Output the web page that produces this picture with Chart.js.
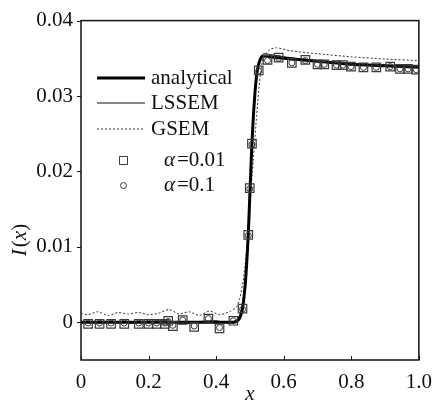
<!DOCTYPE html>
<html>
<head>
<meta charset="utf-8">
<script src="https://cdn.jsdelivr.net/npm/chart.js@4.4.0/dist/chart.umd.min.js"></script>
<style>
    html, body { margin: 0; padding: 0; background: #fff; }
</style>
</head>
<body>
<canvas id="chart" width="442" height="400"></canvas>
<script>
// analytical solution
const analyticX = [0, 0.1, 0.2, 0.3, 0.4, 0.45, 0.46, 0.47, 0.478, 0.485, 0.49, 0.495, 0.5, 0.505, 0.51, 0.515, 0.52, 0.525, 0.53, 0.535, 0.545, 0.56, 0.6, 0.7, 0.8, 0.9, 1.0];
const analyticY = [0, 0, 0, 0, 0, 0, 0.0001, 0.0006, 0.0018, 0.0045, 0.0075, 0.0116, 0.0172, 0.0228, 0.0272, 0.0305, 0.0328, 0.0341, 0.0348, 0.0352, 0.0353, 0.0352, 0.0350, 0.0346, 0.0342, 0.0340, 0.0338];

// LSSEM
const lssemX = [0, 0.05, 0.1, 0.15, 0.2, 0.25, 0.3, 0.35, 0.4, 0.44, 0.46, 0.47, 0.48, 0.49, 0.5, 0.51, 0.52, 0.53, 0.54, 0.56, 0.6, 0.7, 0.8, 0.9, 1.0];
const lssemY = [0.0001, -0.0001, 0.0001, -0.0001, 0.0001, 0.0002, -0.0002, 0.0001, 0.0002, -0.0001, 0.0003, 0.0010, 0.0030, 0.0080, 0.0170, 0.0265, 0.0325, 0.0350, 0.0356, 0.0355, 0.0352, 0.0347, 0.0343, 0.0341, 0.0339];

// GSEM
const gsemX = [0, 0.02, 0.05, 0.08, 0.11, 0.14, 0.17, 0.2, 0.23, 0.26, 0.29, 0.32, 0.35, 0.38, 0.41, 0.44, 0.46, 0.47, 0.48, 0.49, 0.5, 0.51, 0.52, 0.53, 0.54, 0.56, 0.58, 0.62, 0.7, 0.8, 0.9, 1.0];
const gsemY = [0.0012, 0.0010, 0.0014, 0.0009, 0.0013, 0.0011, 0.0013, 0.0010, 0.0012, 0.0017, 0.0011, 0.0014, 0.0009, 0.0015, 0.0010, 0.0014, 0.0020, 0.0032, 0.0055, 0.0095, 0.0155, 0.0215, 0.0275, 0.0325, 0.0352, 0.0362, 0.0364, 0.0360, 0.0356, 0.0352, 0.0349, 0.0347];

// alpha = 0.01 (squares)
const sqX = [0.021, 0.055, 0.089, 0.128, 0.171, 0.2, 0.224, 0.248, 0.258, 0.272, 0.301, 0.335, 0.377, 0.41, 0.451, 0.478, 0.495, 0.4995, 0.506, 0.526, 0.552, 0.585, 0.624, 0.664, 0.70, 0.72, 0.756, 0.775, 0.799, 0.836, 0.874, 0.915, 0.944, 0.968, 0.992];
const sqY = [-0.0002, -0.0002, -0.0002, -0.0002, -0.0002, -0.0002, -0.0002, -0.0002, 0.0002, -0.0005, 0.0003, -0.0006, 0.0005, -0.0008, 0.0002, 0.0018, 0.0116, 0.0178, 0.0237, 0.0334, 0.0348, 0.0351, 0.0344, 0.0348, 0.0342, 0.0342, 0.0341, 0.0341, 0.0339, 0.0338, 0.0338, 0.0339, 0.0336, 0.0336, 0.0335];

// alpha = 0.1 (circles)
const ciX = [0.021, 0.055, 0.089, 0.128, 0.171, 0.2, 0.224, 0.248, 0.258, 0.272, 0.301, 0.335, 0.377, 0.41, 0.451, 0.478, 0.495, 0.4995, 0.506, 0.526, 0.552, 0.585, 0.624, 0.664, 0.70, 0.72, 0.756, 0.775, 0.799, 0.836, 0.874, 0.915, 0.944, 0.968, 0.992];
const ciY = [-0.0001, -0.0001, -0.0001, -0.0001, -0.0001, -0.0001, -0.0001, -0.0001, 0.0001, -0.0004, 0.0003, -0.0005, 0.0005, -0.0007, 0.0002, 0.0017, 0.0115, 0.0177, 0.0236, 0.0333, 0.0347, 0.0350, 0.0344, 0.0347, 0.0342, 0.0342, 0.0341, 0.0341, 0.0339, 0.0338, 0.0338, 0.0339, 0.0336, 0.0336, 0.0335];

const xTicks = [0, 0.2, 0.4, 0.6, 0.8, 1.0];
const yTicks = [0, 0.01, 0.02, 0.03, 0.04];

const FONT = '"Liberation Serif", "Times New Roman", serif';
const INK = '#111';

function pts(xs, ys) {
    return xs.map((x, i) => ({x: x, y: ys[i]}));
}

// frame, tick marks, axis titles and the legend
const decor = {
    id: 'decor',
    afterDraw(chart) {
        const ctx = chart.ctx;
        const a = chart.chartArea;
        const xs = chart.scales.x, ys = chart.scales.y;
        ctx.save();
        ctx.strokeStyle = INK;
        ctx.lineWidth = 1.5;
        ctx.strokeRect(a.left, a.top, a.right - a.left, a.bottom - a.top);

        ctx.lineWidth = 1;
        ctx.beginPath();
        xTicks.forEach(v => {
            const px = Math.round(xs.getPixelForValue(v)) + 0.5;
            ctx.moveTo(px, a.bottom);
            ctx.lineTo(px, a.bottom - 4);
        });
        yTicks.forEach(v => {
            const py = Math.round(ys.getPixelForValue(v)) + 0.5;
            ctx.moveTo(a.left, py);
            ctx.lineTo(a.left - 4, py);
        });
        ctx.stroke();

        // axis titles
        ctx.fillStyle = INK;
        ctx.textBaseline = 'middle';
        ctx.textAlign = 'center';
        ctx.font = 'italic 21px ' + FONT;
        ctx.fillText('x', (a.left + a.right) / 2, 394);

        ctx.save();
        ctx.translate(20, 240);
        ctx.rotate(-Math.PI / 2);
        ctx.textAlign = 'left';
        const parts = [['I', 'italic'], ['(', 'normal'], ['x', 'italic'], [')', 'normal']];
        let total = 0;
        parts.forEach(p => { ctx.font = p[1] + ' 21px ' + FONT; total += ctx.measureText(p[0]).width + (p[0] === 'I' ? 2 : 0); });
        let cx = -total / 2;
        parts.forEach(p => {
            ctx.font = p[1] + ' 21px ' + FONT;
            ctx.fillText(p[0], cx, 0);
            cx += ctx.measureText(p[0]).width + (p[0] === 'I' ? 2 : 0);
        });
        ctx.restore();

        // legend
        const sets = chart.data.datasets;
        const rows = [78, 103, 129, 160, 185];
        const order = [0, 1, 2, 3, 4];
        ctx.textAlign = 'left';
        order.forEach((di, r) => {
            const ds = sets[di];
            const y = rows[r];
            ctx.strokeStyle = ds.borderColor;
            if (ds.showLine) {
                ctx.lineWidth = ds.borderWidth;
                ctx.setLineDash(ds.borderDash || []);
                ctx.beginPath();
                ctx.moveTo(97, y);
                ctx.lineTo(145, y);
                ctx.stroke();
                ctx.setLineDash([]);
                ctx.font = '21px ' + FONT;
                ctx.fillText(ds.label, 151, y);
            } else {
                ctx.lineWidth = 1;
                ctx.beginPath();
                if (ds.pointStyle === 'rect') {
                    ctx.rect(119.5, y - 3.5, 8, 8);
                } else {
                    ctx.arc(123.5, y + 0.5, 3, 0, Math.PI * 2);
                }
                ctx.stroke();
                const lbl = ds.label.split('=');
                ctx.font = 'italic 21px ' + FONT;
                ctx.fillText('\u03b1', 164, y);
                const w = ctx.measureText('\u03b1').width;
                ctx.font = '21px ' + FONT;
                ctx.fillText('=' + lbl[1], 164 + w + 2, y);
            }
        });
        ctx.restore();
    }
};

new Chart(document.getElementById('chart'), {
    type: 'scatter',
    data: {
        datasets: [
            {
                label: 'analytical',
                data: pts(analyticX, analyticY),
                showLine: true,
                borderColor: '#000',
                borderWidth: 3,
                pointRadius: 0,
                tension: 0.2,
                order: 3
            },
            {
                label: 'LSSEM',
                data: pts(lssemX, lssemY),
                showLine: true,
                borderColor: '#111',
                borderWidth: 1,
                pointRadius: 0,
                tension: 0.2,
                order: 4
            },
            {
                label: 'GSEM',
                data: pts(gsemX, gsemY),
                showLine: true,
                borderColor: '#333',
                borderWidth: 1,
                borderDash: [2, 2],
                pointRadius: 0,
                tension: 0.2,
                order: 5
            },
            {
                label: '\u03b1=0.01',
                data: pts(sqX, sqY),
                showLine: false,
                pointStyle: 'rect',
                pointRadius: 6,
                borderColor: '#3a3a3a',
                borderWidth: 1.2,
                backgroundColor: 'rgba(0,0,0,0)',
                order: 1
            },
            {
                label: '\u03b1=0.1',
                data: pts(ciX, ciY),
                showLine: false,
                pointStyle: 'circle',
                pointRadius: 3,
                borderColor: '#3a3a3a',
                borderWidth: 1,
                backgroundColor: 'rgba(0,0,0,0)',
                order: 2
            }
        ]
    },
    options: {
        responsive: false,
        animation: false,
        layout: {padding: {top: 15, right: 16, left: 0, bottom: 0}},
        plugins: {
            legend: {display: false},
            tooltip: {enabled: false}
        },
        scales: {
            x: {
                type: 'linear',
                min: 0,
                max: 1,
                grid: {display: false, drawTicks: false},
                border: {display: false},
                afterBuildTicks: s => { s.ticks = xTicks.map(v => ({value: v})); },
                afterFit: s => { s.height = 40; },
                ticks: {
                    color: INK,
                    padding: 10,
                    maxRotation: 0,
                    font: {family: FONT, size: 21},
                    callback: v => v === 0 ? '0' : v.toFixed(1)
                }
            },
            y: {
                type: 'linear',
                min: -0.005,
                max: 0.04,
                grid: {display: false, drawTicks: false},
                border: {display: false},
                afterBuildTicks: s => { s.ticks = yTicks.map(v => ({value: v})); },
                afterFit: s => { s.width = 81; },
                ticks: {
                    color: INK,
                    padding: 8,
                    font: {family: FONT, size: 21},
                    callback: v => v === 0 ? '0' : v.toFixed(2)
                }
            }
        }
    },
    plugins: [decor]
});
</script>
</body>
</html>
